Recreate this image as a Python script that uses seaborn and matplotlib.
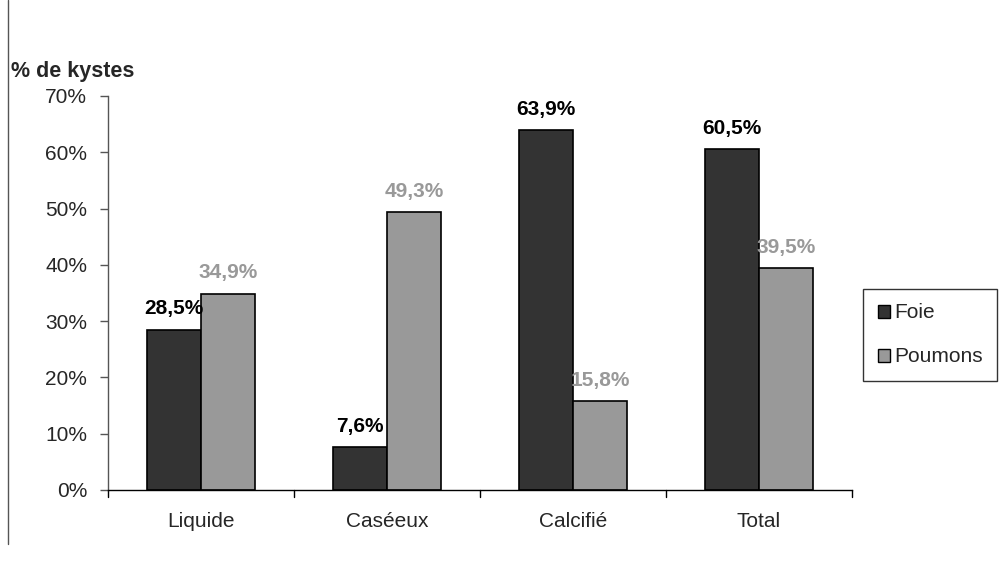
import matplotlib
matplotlib.use("Agg")
import matplotlib.pyplot as plt
from matplotlib.lines import Line2D
import seaborn as sns
import pandas as pd

categories = ["Liquide", "Caséeux", "Calcifié", "Total"]
foie = [28.5, 7.6, 63.9, 60.5]
poumons = [34.9, 49.3, 15.8, 39.5]
series_names = ["Foie", "Poumons"]
yticks = [0, 10, 20, 30, 40, 50, 60, 70]

df = pd.DataFrame({
    "cat": categories * 2,
    "val": foie + poumons,
    "organ": [series_names[0]] * 4 + [series_names[1]] * 4,
})

sns.set_style("white")
plt.rcParams["font.family"] = ["Liberation Sans", "DejaVu Sans"]

fig = plt.figure(figsize=(10, 5.61), dpi=100)
ax = fig.add_axes([0.108, 0.1266, 0.744, 0.7023])

colors = {"Foie": "#333333", "Poumons": "#999999"}
sns.barplot(data=df, x="cat", y="val", hue="organ", palette=colors,
            width=0.58, edgecolor="black", linewidth=1.2, ax=ax, legend=False,
            saturation=1)

ax.set_ylim(0, 70)
ax.set_xlim(-0.5, 3.5)
ax.set_yticks(yticks)
ax.set_yticklabels([f"{v}%" for v in yticks], fontsize=15)
ax.set_xticks([0, 1, 2, 3])
ax.set_xticklabels(categories, fontsize=15)
ax.tick_params(axis="x", length=0, pad=16)
ax.tick_params(axis="y", length=6, width=1, color="#555555", direction="out", pad=9, left=True)
# category separator ticks
for b in [-0.5, 0.5, 1.5, 2.5, 3.5]:
    ax.plot([b, b], [0, -1.2], color="black", lw=1, clip_on=False)
ax.set_xlabel("")
ax.set_ylabel("")
for s in ["top", "right"]:
    ax.spines[s].set_visible(False)
ax.spines["left"].set_color("#555555")
ax.spines["bottom"].set_color("black")
ax.spines["left"].set_linewidth(1)
ax.spines["bottom"].set_linewidth(1)

label_colors = ["black", "#999999"]
for cont, lc in zip(ax.containers, label_colors):
    labels = [f"{v:.1f}%".replace(".", ",") for v in cont.datavalues]
    ax.bar_label(cont, labels=labels, padding=8, color=lc, fontsize=15,
                 fontweight="bold")

fig.text(0.011, 0.862, "% de kystes", fontsize=15.5, fontweight="bold", ha="left", va="baseline")

# legend
handles = [plt.Rectangle((0, 0), 1, 1, facecolor=colors[n], edgecolor="black", lw=1)
           for n in series_names]
leg = fig.legend(handles, series_names, loc="upper left", bbox_to_anchor=(0.863, 0.485),
                 frameon=True, fontsize=15, handlelength=0.6, handleheight=0.6,
                 handletextpad=0.2, labelspacing=1.2, borderpad=0.7, fancybox=False,
                 borderaxespad=0)
leg.get_frame().set_edgecolor("black")
leg.get_frame().set_linewidth(1)

# left border line
fig.add_artist(Line2D([0.008, 0.008], [0.03, 1.0], color="#555555", lw=1))

fig.savefig("out.png", dpi=100)
